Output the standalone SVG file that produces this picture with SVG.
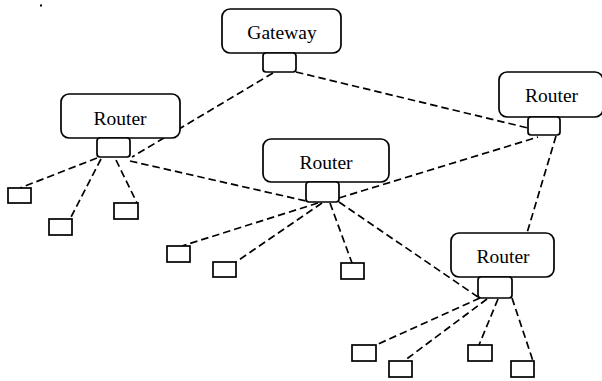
<svg xmlns="http://www.w3.org/2000/svg" width="602" height="381" viewBox="0 0 602 381">
  <style>
    .box { fill: #fff; stroke: #000; stroke-width: 1.7; }
    .port { fill: #fff; stroke: #000; stroke-width: 1.7; }
    .leaf { fill: #fff; stroke: #000; stroke-width: 1.7; }
    .link { fill: none; stroke: #000; stroke-width: 1.7; stroke-dasharray: 7.5 4; }
    .label { font-family: "Liberation Serif", "Times New Roman", serif; font-size: 19.5px; text-anchor: middle; fill: #000; }
  </style>
  <rect width="602" height="381" fill="#fff"/>
  <rect x="40" y="4.5" width="2" height="2" fill="#000"/>

  <!-- dashed links -->
  <g id="connectors">
    <line class="link" x1="273" y1="73" x2="132" y2="157"/>
    <line class="link" x1="296" y1="72" x2="528" y2="128"/>
    <line class="link" x1="97" y1="158" x2="20" y2="188"/>
    <line class="link" x1="101" y1="159" x2="70" y2="219"/>
    <line class="link" x1="116" y1="160" x2="137" y2="203"/>
    <line class="link" x1="130" y1="161" x2="306" y2="201"/>
    <line class="link" x1="339" y1="198" x2="538" y2="137"/>
    <line class="link" x1="556" y1="136" x2="527" y2="233"/>
    <line class="link" x1="318" y1="203" x2="182" y2="246"/>
    <line class="link" x1="322" y1="203" x2="236" y2="262"/>
    <line class="link" x1="330" y1="203" x2="352" y2="263"/>
    <line class="link" x1="339" y1="202" x2="478" y2="297"/>
    <line class="link" x1="480" y1="298" x2="376" y2="345"/>
    <line class="link" x1="487" y1="299" x2="404" y2="361"/>
    <line class="link" x1="498" y1="299" x2="479" y2="345"/>
    <line class="link" x1="512" y1="298" x2="533" y2="361"/>
  </g>

  <g id="gateway">
    <rect class="box" x="222" y="9" width="119" height="44" rx="8"/>
    <rect class="port" x="263" y="53" width="33" height="19" rx="3"/>
    <text class="label" x="282" y="39">Gateway</text>
  </g>
  <g id="router-west">
    <rect class="box" x="61" y="94" width="119" height="44" rx="8"/>
    <rect class="port" x="97" y="138" width="33" height="19" rx="3"/>
    <text class="label" x="120" y="125">Router</text>
  </g>
  <g id="router-center">
    <rect class="box" x="263" y="139" width="126" height="43" rx="8"/>
    <rect class="port" x="306" y="182" width="33" height="20" rx="3"/>
    <text class="label" x="326" y="169">Router</text>
  </g>
  <g id="router-east">
    <rect class="box" x="499" y="72" width="104" height="45" rx="8"/>
    <rect class="port" x="528" y="117" width="32" height="18" rx="3"/>
    <text class="label" x="551.5" y="102">Router</text>
  </g>
  <g id="router-south">
    <rect class="box" x="451" y="233" width="103" height="44" rx="8"/>
    <rect class="port" x="478" y="277" width="34" height="21" rx="3"/>
    <text class="label" x="503" y="263">Router</text>
  </g>

  <g id="host-1"><rect class="leaf" x="8" y="188" width="23" height="15"/></g>
  <g id="host-2"><rect class="leaf" x="49" y="219" width="23" height="16"/></g>
  <g id="host-3"><rect class="leaf" x="114" y="203" width="24" height="16"/></g>
  <g id="host-4"><rect class="leaf" x="167" y="246" width="23" height="16"/></g>
  <g id="host-5"><rect class="leaf" x="213" y="262" width="23" height="15"/></g>
  <g id="host-6"><rect class="leaf" x="341" y="263" width="23" height="16"/></g>
  <g id="host-7"><rect class="leaf" x="352" y="345" width="24" height="16"/></g>
  <g id="host-8"><rect class="leaf" x="389" y="361" width="23" height="16"/></g>
  <g id="host-9"><rect class="leaf" x="468" y="345" width="24" height="16"/></g>
  <g id="host-10"><rect class="leaf" x="511" y="361" width="23" height="16"/></g>
</svg>
